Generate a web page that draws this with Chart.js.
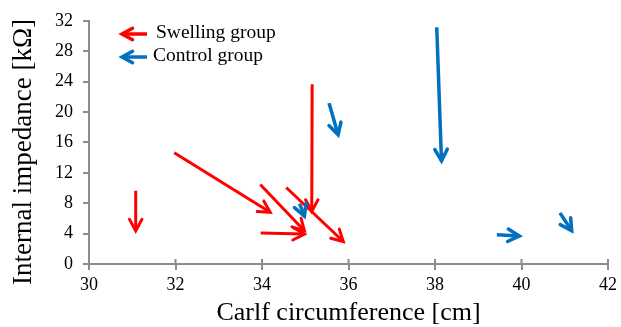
<!DOCTYPE html>
<html>
<head>
<meta charset="utf-8">
<script src="https://cdn.jsdelivr.net/npm/chart.js@4.4.1/dist/chart.umd.min.js"></script>
<style>
  html, body { margin: 0; background: #fff; }
  #wrap { width: 621px; height: 327px; }
</style>
</head>
<body>
<div id="wrap"><canvas id="chart"></canvas></div>
<script>
// arrows: start (x0, y0) -> end (x1, y1)
const swellingX0 = [31.08, 31.97, 33.96, 33.97, 34.56, 35.16];
const swellingY0 = [9.64, 14.65, 10.45, 4.07, 10.07, 23.65];
const swellingX1 = [31.08, 34.19, 34.98, 34.98, 35.88, 35.15];
const swellingY1 = [4.37, 6.81, 4.37, 3.94, 2.96, 6.94];

const controlX0 = [34.87, 35.55, 38.04, 39.43, 40.89];
const controlY0 = [7.93, 21.17, 31.15, 3.86, 6.73];
const controlX1 = [34.98, 35.76, 38.15, 39.95, 41.16];
const controlY1 = [6.3, 17.0, 13.58, 3.69, 4.37];

const xTicks = [30, 32, 34, 36, 38, 40, 42];
const yTicks = [0, 4, 8, 12, 16, 20, 24, 28, 32];

const RED = "#ff0000";
const BLUE = "#0070c0";
const AXIS = "#8c8c8c";
const SERIF = "'Liberation Serif', 'Times New Roman', serif";

function arrowSets(x0, y0, x1, y1, color, width, group) {
  return x0.map((_, i) => ({
    label: group,
    data: [{ x: x0[i], y: y0[i] }, { x: x1[i], y: y1[i] }],
    borderColor: color,
    backgroundColor: color,
    borderWidth: width,
    pointRadius: 0,
    showLine: true,
  }));
}

function drawHead(ctx, tx, ty, ang, len, color, width) {
  const spread = 0.5;
  ctx.save();
  ctx.strokeStyle = color;
  ctx.lineWidth = width;
  ctx.lineCap = "round";
  ctx.lineJoin = "miter";
  ctx.beginPath();
  ctx.moveTo(tx - len * Math.cos(ang - spread), ty - len * Math.sin(ang - spread));
  ctx.lineTo(tx, ty);
  ctx.lineTo(tx - len * Math.cos(ang + spread), ty - len * Math.sin(ang + spread));
  ctx.stroke();
  ctx.restore();
}

const arrowHeads = {
  id: "arrowHeads",
  afterDatasetsDraw(chart) {
    const { ctx } = chart;
    chart.data.datasets.forEach((ds, i) => {
      const pts = chart.getDatasetMeta(i).data;
      const a = pts[0], b = pts[1];
      const ang = Math.atan2(b.y - a.y, b.x - a.x);
      drawHead(ctx, b.x, b.y, ang, 13, ds.borderColor, ds.borderWidth);
    });
  },
};

// legend, x-axis tick stubs above the axis, y title
const overlay = {
  id: "overlay",
  afterDraw(chart) {
    const { ctx } = chart;
    const items = [
      { text: "Swelling group", color: RED, y: 34, tx: 156 },
      { text: "Control group", color: BLUE, y: 57, tx: 153 },
    ];
    items.forEach(it => {
      ctx.save();
      ctx.strokeStyle = it.color;
      ctx.lineWidth = 3.5;
      ctx.beginPath();
      ctx.moveTo(147, it.y);
      ctx.lineTo(123, it.y);
      ctx.stroke();
      ctx.restore();
      drawHead(ctx, 122, it.y, Math.PI, 12, it.color, 3.5);
      ctx.save();
      ctx.fillStyle = "#000";
      ctx.font = "19.5px " + SERIF;
      ctx.textBaseline = "middle";
      ctx.fillText(it.text, it.tx, it.y - 1);
      ctx.restore();
    });

    const xs = chart.scales.x;
    const bottom = chart.chartArea.bottom;
    ctx.save();
    ctx.strokeStyle = AXIS;
    ctx.lineWidth = 2;
    xTicks.forEach(v => {
      const px = xs.getPixelForValue(v);
      ctx.beginPath();
      ctx.moveTo(px, bottom);
      ctx.lineTo(px, bottom - 5);
      ctx.stroke();
    });
    ctx.restore();

    ctx.save();
    ctx.translate(24, 152);
    ctx.rotate(-Math.PI / 2);
    ctx.fillStyle = "#000";
    ctx.font = "27px " + SERIF;
    ctx.textAlign = "center";
    ctx.textBaseline = "middle";
    ctx.fillText("Internal impedance [kΩ]", 0, 0);
    ctx.restore();
  },
};

new Chart(document.getElementById("chart"), {
  type: "scatter",
  data: {
    datasets: [
      ...arrowSets(swellingX0, swellingY0, swellingX1, swellingY1, RED, 3, "Swelling group"),
      ...arrowSets(controlX0, controlY0, controlX1, controlY1, BLUE, 3.5, "Control group"),
    ],
  },
  options: {
    responsive: true,
    maintainAspectRatio: false,
    animation: false,
    layout: { padding: { top: 15, right: 12, left: 0, bottom: 0 } },
    plugins: { legend: { display: false }, tooltip: { enabled: false } },
    scales: {
      x: {
        type: "linear",
        min: 30,
        max: 42,
        afterBuildTicks: s => { s.ticks = xTicks.map(v => ({ value: v })); },
        afterFit: s => { s.height = 63; },
        ticks: { color: "#000", font: { family: SERIF, size: 18 }, padding: 4, maxRotation: 0 },
        grid: { drawOnChartArea: false, color: AXIS, lineWidth: 2, tickLength: 6 },
        border: { color: AXIS, width: 2 },
        title: {
          display: true,
          text: "Carlf circumference [cm]",
          color: "#000",
          font: { family: SERIF, size: 26, lineHeight: 1 },
          padding: { top: 0, bottom: 1 },
        },
      },
      y: {
        type: "linear",
        min: 0,
        max: 32,
        afterBuildTicks: s => { s.ticks = yTicks.map(v => ({ value: v })); },
        afterFit: s => { s.width = 89; },
        ticks: { color: "#000", font: { family: SERIF, size: 18 }, padding: 10 },
        grid: { drawOnChartArea: false, color: AXIS, lineWidth: 2, tickLength: 6 },
        border: { color: AXIS, width: 2 },
      },
    },
  },
  plugins: [arrowHeads, overlay],
});
</script>
</body>
</html>
